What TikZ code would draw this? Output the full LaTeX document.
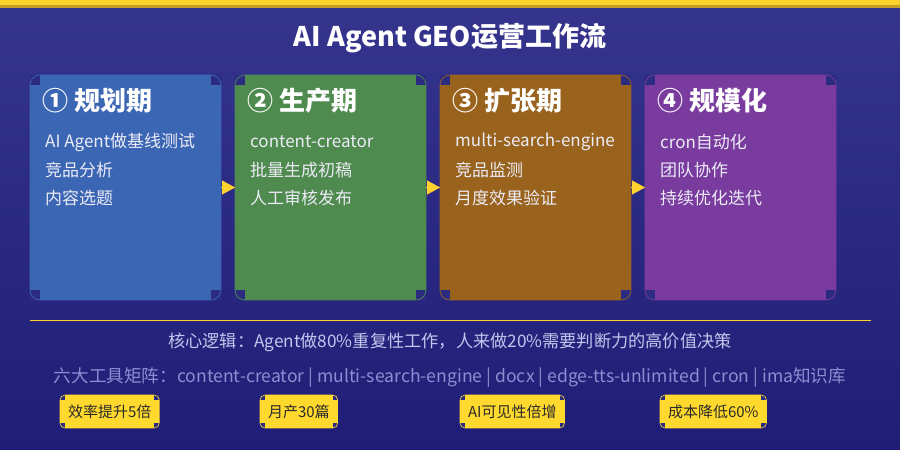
\documentclass[tikz,border=0pt]{standalone}
\usepackage{fontspec}
\setmainfont{Noto Sans CJK SC}
\usetikzlibrary{arrows.meta}

\definecolor{bgtop}{HTML}{36358D}
\definecolor{bgbottom}{HTML}{1F1D75}
\definecolor{goldbar}{HTML}{FFD22E}
\definecolor{goldedge}{HTML}{C49E25}
\definecolor{notchcol}{HTML}{2C2B82}
\definecolor{planblue}{HTML}{3B66B4}
\definecolor{makegreen}{HTML}{4F8A4F}
\definecolor{growbrown}{HTML}{99631D}
\definecolor{scalepurple}{HTML}{7A3B9F}
\definecolor{tasktext}{HTML}{ECECF6}
\definecolor{logictext}{HTML}{C4C5EE}
\definecolor{tooltext}{HTML}{8C8DD2}
\definecolor{badgefill}{HTML}{FFD92E}
\definecolor{badgetext}{HTML}{2A2A2A}

\tikzset{
  card/.style={fill=#1, minimum width=191pt, minimum height=225pt, inner sep=0pt, outer sep=0pt},
  cardline/.style={draw=#1, line width=0.7pt, rounded corners=10pt},
  notch/.style={fill=notchcol},
  phase/.style={anchor=west, inner sep=0pt, text=white, font=\fontsize{26}{30}\selectfont\bfseries},
  task/.style={anchor=west, inner sep=0pt, text=tasktext, font=\fontsize{17}{20}\selectfont},
  flow/.style={draw=goldbar, line width=0.1pt, -{Triangle[length=13pt,width=14pt]}},
  badge/.style={anchor=west, fill=badgefill, text=badgetext, minimum height=33pt, inner xsep=8pt, inner ysep=0pt, outer sep=0pt, font=\fontsize{15}{17}\selectfont},
  badgeline/.style={draw=badgefill, line width=0.6pt, rounded corners=5pt},
}

\begin{document}
\begin{tikzpicture}[x=1pt, y=-1pt]
 \useasboundingbox (0,0) rectangle (900,450);
 \shade[top color=bgtop, bottom color=bgbottom] (0,0) rectangle (900,450);
 \fill[goldbar] (0,0) rectangle (900,5);
 \fill[goldedge] (0,5) rectangle (900,8);

 \node[text=white, font=\fontsize{27}{30}\selectfont\bfseries] (head) at (450,38) {AI Agent GEO运营工作流};

 % the four phases
 \node[card=planblue] (plan) at (125.5,187.5) {};
 \node[card=makegreen] (make) at (330.5,187.5) {};
 \node[card=growbrown] (grow) at (535.5,187.5) {};
 \node[card=scalepurple] (scale) at (740.5,187.5) {};

 \foreach \p/\c in {plan/planblue, make/makegreen, grow/growbrown, scale/scalepurple} {
   \fill[notch] (\p.north west) rectangle ++(10,10);
   \fill[notch] (\p.north east) rectangle ++(-10,10);
   \fill[notch] (\p.south west) rectangle ++(10,-10);
   \fill[notch] (\p.south east) rectangle ++(-10,-10);
   \draw[cardline=\c] (\p.north west) rectangle (\p.south east);
 }

 \draw[flow] (plan) -- (make);
 \draw[flow] (make) -- (grow);
 \draw[flow] (grow) -- (scale);

 \node[phase] (plan-t) at (42,101) {① 规划期};
 \node[task] (plan-a) at (45,142) {AI Agent做基线测试};
 \node[task] (plan-b) at (45,170) {竞品分析};
 \node[task] (plan-c) at (45,198) {内容选题};

 \node[phase] (make-t) at (247,101) {② 生产期};
 \node[task] (make-a) at (250,142) {content-creator};
 \node[task] (make-b) at (250,170) {批量生成初稿};
 \node[task] (make-c) at (250,198) {人工审核发布};

 \node[phase] (grow-t) at (452,101) {③ 扩张期};
 \node[task] (grow-a) at (455,142) {multi-search-engine};
 \node[task] (grow-b) at (455,170) {竞品监测};
 \node[task] (grow-c) at (455,198) {月度效果验证};

 \node[phase] (scale-t) at (657,101) {④ 规模化};
 \node[task] (scale-a) at (660,142) {cron自动化};
 \node[task] (scale-b) at (660,170) {团队协作};
 \node[task] (scale-c) at (660,198) {持续优化迭代};

 % summary
 \draw[goldbar, line width=1pt] (30,320) -- (871,320);
 \node[text=logictext, font=\fontsize{17.2}{20}\selectfont] (logic) at (450,342)
   {核心逻辑：Agent做80\%重复性工作，人来做20\%需要判断力的高价值决策};
 \node[text=tooltext, font=\fontsize{17.6}{20}\selectfont] (tools) at (450,378)
   {六大工具矩阵：content-creator | multi-search-engine | docx | edge-tts-unlimited | cron | ima知识库};

 \node[badge] (speed) at (60,411.5) {效率提升5倍};
 \node[badge] (volume) at (260,411.5) {月产30篇};
 \node[badge] (reach) at (460,411.5) {AI可见性倍增};
 \node[badge] (cost) at (660,411.5) {成本降低60\%};

 \foreach \b in {speed, volume, reach, cost} {
   \fill[notch] (\b.north west) rectangle ++(5,5);
   \fill[notch] (\b.north east) rectangle ++(-5,5);
   \fill[notch] (\b.south west) rectangle ++(5,-5);
   \fill[notch] (\b.south east) rectangle ++(-5,-5);
   \draw[badgeline] (\b.north west) rectangle (\b.south east);
 }
\end{tikzpicture}
\end{document}
